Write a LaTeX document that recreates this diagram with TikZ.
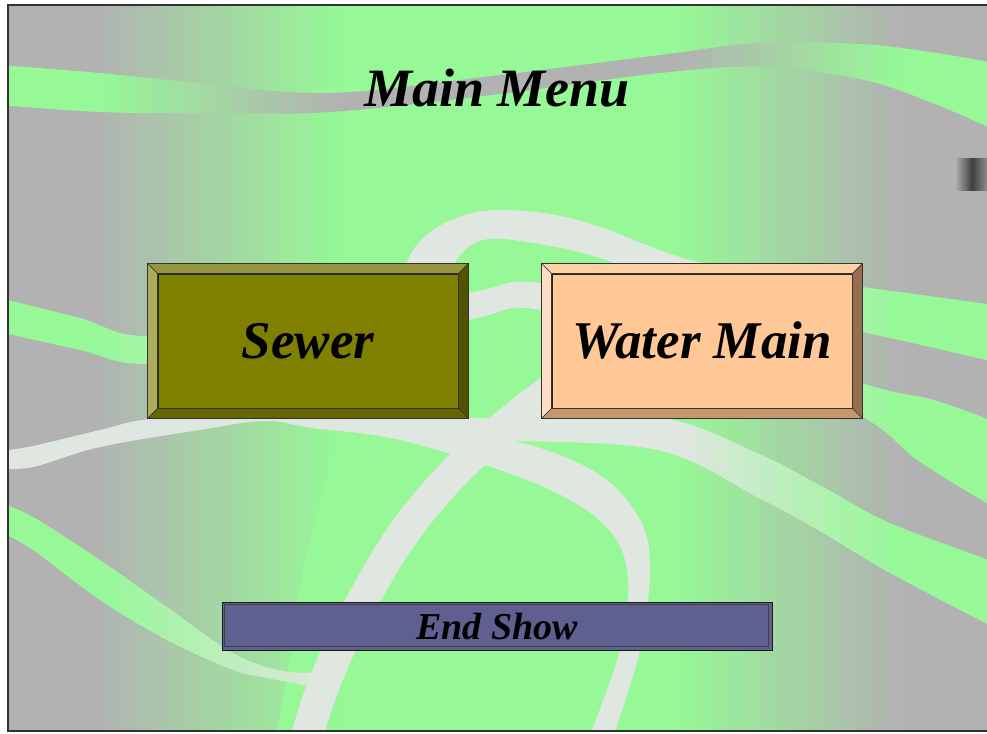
\documentclass[tikz,border=0pt]{standalone}
\usepackage{fontspec}
\setmainfont{Liberation Serif}

\definecolor{bggray}{RGB}{178,178,178}
\definecolor{lgreen}{RGB}{150,248,150}
\definecolor{rlight}{RGB}{224,230,224}
\definecolor{sewface}{RGB}{128,128,0}
\definecolor{sewtop}{RGB}{150,150,64}
\definecolor{sewleft}{RGB}{172,172,92}
\definecolor{sewright}{RGB}{82,82,0}
\definecolor{sewbot}{RGB}{102,102,0}
\definecolor{watface}{RGB}{255,200,150}
\definecolor{wattop}{RGB}{255,210,168}
\definecolor{watleft}{RGB}{255,222,196}
\definecolor{watright}{RGB}{150,112,78}
\definecolor{watbot}{RGB}{200,150,110}
\definecolor{endface}{RGB}{96,96,144}

% ribbon outlines, in pixels (y grows downwards)
\newcommand\topribbon{plot[smooth,tension=0.6] coordinates {(0,65) (100,73) (200,83) (330,93) (500,75) (660,55) (760,43) (860,44) (930,52) (995,63)}
  -- plot[smooth,tension=0.6] coordinates {(995,130) (930,102) (860,79) (760,67) (660,73) (500,94) (330,112) (200,113) (100,112) (0,105)} -- cycle}
\newcommand\archribbon{plot[smooth,tension=0.6] coordinates {(395,300) (410,255) (433,230) (465,215) (500,210) (550,214) (600,227) (683,258) (770,276) (862,287) (995,305)}
  -- plot[smooth,tension=0.6] coordinates {(995,362) (862,332) (770,316) (683,290) (600,258) (533,243) (483,240) (455,262) (440,300)} -- cycle}
\newcommand\sideribbon{plot[smooth,tension=0.6] coordinates {(0,298) (80,318) (148,336) (300,318) (467,293) (540,283) (700,322) (862,383) (934,400) (995,422)}
  -- plot[smooth,tension=0.6] coordinates {(995,508) (920,462) (854,413) (700,362) (540,310) (467,320) (300,348) (148,364) (80,350) (0,332)} -- cycle}
\newcommand\loopribbon{plot[smooth,tension=0.6] coordinates {(0,451) (33,446) (100,430) (150,419) (250,413) (330,414) (500,418) (657,417) (757,453) (823,487) (890,523) (995,562)}
  -- plot[smooth,tension=0.6] coordinates {(995,628) (890,573) (823,533) (757,497) (657,450) (500,440) (330,430) (267,421) (200,430) (100,447) (33,467) (0,468)} -- cycle}
\newcommand\bendribbon{plot[smooth,tension=0.6] coordinates {(330,418) (450,432) (530,445) (600,475) (640,520) (650,570) (640,650) (612,740)}
  -- plot[smooth,tension=0.6] coordinates {(588,740) (620,650) (628,580) (613,535) (570,500) (500,470) (400,440) (330,430)} -- cycle}
\newcommand\lowribbon{plot[smooth,tension=0.6] coordinates {(0,503) (33,517) (100,560) (167,607) (233,653) (283,671) (330,672)}
  -- plot[smooth,tension=0.6] coordinates {(330,690) (267,678) (233,670) (167,640) (100,600) (33,550) (0,532)} -- cycle}
\newcommand\dropribbon{plot[smooth,tension=0.6] coordinates {(340,430) (385,428) (360,560) (335,680) (325,740)}
  -- plot[smooth,tension=0.6] coordinates {(275,740) (290,660) (305,560) (330,470)} -- cycle}

\newcommand\bevel[5]{%
  \filldraw[#2, draw=black!80, line width=0.6pt] ([shift={(-10,-10)}]#1.north west) -- ([shift={(10,-10)}]#1.north east) -- (#1.north east) -- (#1.north west) -- cycle;
  \filldraw[#3, draw=black!80, line width=0.6pt] ([shift={(-10,-10)}]#1.north west) -- (#1.north west) -- (#1.south west) -- ([shift={(-10,10)}]#1.south west) -- cycle;
  \filldraw[#4, draw=black!80, line width=0.6pt] ([shift={(10,-10)}]#1.north east) -- ([shift={(10,10)}]#1.south east) -- (#1.south east) -- (#1.north east) -- cycle;
  \filldraw[#5, draw=black!80, line width=0.6pt] ([shift={(-10,10)}]#1.south west) -- (#1.south west) -- (#1.south east) -- ([shift={(10,10)}]#1.south east) -- cycle;
}

\tikzset{
  btn/.style={draw=black!85, line width=1pt, minimum width=300pt, minimum height=134pt, inner sep=0pt,
    font=\fontsize{53}{53}\selectfont\bfseries\itshape},
  sewerbtn/.style={btn, fill=sewface},
  waterbtn/.style={btn, fill=watface},
  titletext/.style={font=\fontsize{54}{54}\selectfont\bfseries\itshape, inner sep=0pt},
  endbar/.style={draw=black!90, line width=1pt, fill=endface, minimum width=550pt, minimum height=48pt,
    inner sep=0pt, font=\fontsize{38}{38}\selectfont\bfseries\itshape},
}

\begin{document}
\begin{tikzpicture}[x=1pt, y=-1pt]
    \useasboundingbox (0,0) rectangle (987,733);
    \fill[white] (0,0) rectangle (987,733);

    % background, strip by strip
    \foreach \xa in {8,24,...,984} {
        \pgfmathsetmacro\xc{\xa+8}
        \pgfmathtruncatemacro\tp{100*max(0,min(1,(\xc-95)/245,(900-\xc)/220))}
        \pgfmathtruncatemacro\tq{\xc<500 ? 100 : \tp}
        \colorlet{bgc}{lgreen!\tp!bggray}
        \colorlet{rgc}{bggray!\tp!lgreen}
        \colorlet{rwc}{rlight!\tp!lgreen}
        \colorlet{rqc}{rlight!\tq!lgreen}
        \begin{scope}
            \clip (\xa,5) rectangle (\xa+16,731);
            \fill[bgc] (\xa,0) rectangle (\xa+16,733);
            \fill[rgc] \topribbon;
            \fill[rwc] \archribbon;
            \fill[rwc] \sideribbon;
            \fill[lgreen] \dropribbon;
            \fill[rqc] \loopribbon;
            \fill[rqc] \bendribbon;
            \fill[rwc] \lowribbon;
            \draw[rqc, line width=32pt] (565,380) .. controls (480,440) and (420,500) .. (380,570) .. controls (345,630) and (318,690) .. (305,745);
        \end{scope}
    }

    % frame
    \draw[black!80, line width=1.5pt] (987,5) -- (8,5) -- (8,731) -- (987,731);

    % dark mark at the right edge
    \shade[left color=bggray, right color=black!75] (955,158) rectangle (972,190);
    \shade[left color=black!75, right color=black!45] (972,158) rectangle (987,190);

    \node[titletext] (title) at (497,88) {Main Menu};

    \node[sewerbtn] (sewer) at (308,341) {Sewer};
    \bevel{sewer}{sewtop}{sewleft}{sewright}{sewbot}

    \node[waterbtn] (watermain) at (702,341) {Water Main};
    \bevel{watermain}{wattop}{watleft}{watright}{watbot}

    \node[endbar] (endshow) at (497,626) {End Show};
    \draw[black!75, line width=0.8pt] ([shift={(3,3)}]endshow.north west) rectangle ([shift={(-4,-4)}]endshow.south east);
\end{tikzpicture}
\end{document}
